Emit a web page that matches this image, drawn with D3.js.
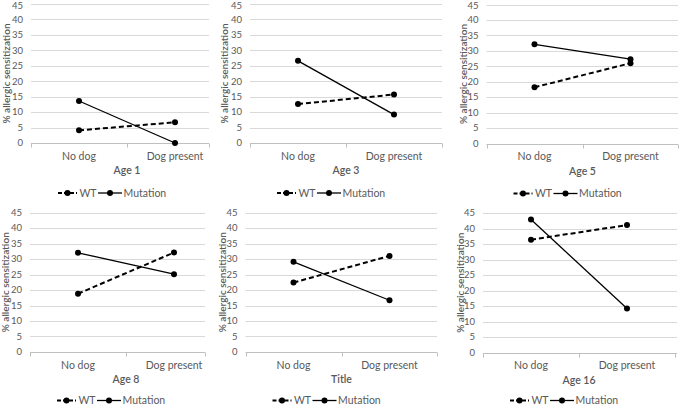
<!DOCTYPE html>
<html>
<head>
<meta charset="utf-8">
<script src="https://cdn.jsdelivr.net/npm/d3@7"></script>
<style>
  html, body { margin: 0; padding: 0; background: #fff; }
  svg { display: block; font-family: Lato, "Open Sans", sans-serif; }
</style>
</head>
<body>
<svg id="chart" width="680" height="406"></svg>
<script>
// ---- data ----
const categories = ["No dog", "Dog present"];
const panelTitles = ["Age 1", "Age 3", "Age 5", "Age 8", "Title", "Age 16"];
const seriesNames = ["WT", "Mutation"];
const wtValues = [
  [4.1, 6.7],
  [12.6, 15.7],
  [18.2, 26.0],
  [18.8, 32.1],
  [22.4, 31.0],
  [36.4, 41.1]
];
const mutationValues = [
  [13.6, 0.0],
  [26.6, 9.2],
  [32.1, 27.3],
  [32.0, 25.1],
  [29.1, 16.7],
  [42.9, 14.2]
];
const yTicks = [0, 5, 10, 15, 20, 25, 30, 35, 40, 45];
const yAxisTitle = "% allergic sensitization";

// ---- layout (positions only) ----
const layout = [
  { left: 31,    top: 4,     bottom: 143, clipRight: 209, titleX: 6,   legendDy: 50 },
  { left: 250,   top: 4,     bottom: 143, clipRight: 442, titleX: 224, legendDy: 50 },
  { left: 486.5, top: 4.5,   bottom: 143.5, clipRight: 678, titleX: 463, legendDy: 50 },
  { left: 30,    top: 212.5, bottom: 352, clipRight: 205, titleX: 5,   legendDy: 48.5 },
  { left: 245.5, top: 212.5, bottom: 352, clipRight: 437, titleX: 222, legendDy: 48.5 },
  { left: 483,   top: 213,   bottom: 352.5, clipRight: 677, titleX: 460, legendDy: 48 }
];
const BAND = 96;
const textColor = "#595959";
const gridColor = "#d9d9d9";

const svg = d3.select("#chart");

panelTitles.forEach((title, i) => {
  const L = layout[i];
  const g = svg.append("g");
  const x = d3.scaleBand().domain(categories).range([L.left, L.left + 2 * BAND]).padding(0);
  const cx = c => x(c) + x.bandwidth() / 2;
  const y = d3.scaleLinear().domain([0, 45]).range([L.bottom, L.top]);

  // gridlines
  g.selectAll("line.grid").data(yTicks.filter(t => t > 0)).enter().append("line")
    .attr("x1", L.left).attr("x2", L.clipRight)
    .attr("y1", d => Math.round(y(d)) + 0.5).attr("y2", d => Math.round(y(d)) + 0.5)
    .attr("stroke", gridColor).attr("stroke-width", 1);

  // y tick labels
  g.selectAll("text.ytick").data(yTicks).enter().append("text")
    .attr("x", L.left - 8).attr("y", d => Math.max(y(d), 5.5))
    .attr("dy", "0.35em").attr("text-anchor", "end")
    .attr("font-size", 9.5).attr("fill", textColor)
    .text(d => d);

  // x axis line
  const y0 = Math.round(y(0)) + 0.5;
  g.append("line").attr("x1", L.left).attr("x2", L.clipRight)
    .attr("y1", y0).attr("y2", y0).attr("stroke", "#bfbfbf");
  const tickXs = [L.left, L.left + BAND, L.left + 2 * BAND].map(v => Math.min(v, L.clipRight));
  g.selectAll("line.xtick").data(tickXs).enter().append("line")
    .attr("x1", d => Math.round(d) + 0.5).attr("x2", d => Math.round(d) + 0.5)
    .attr("y1", y0).attr("y2", y0 + 4).attr("stroke", "#bfbfbf");

  // category labels
  g.selectAll("text.cat").data(categories).enter().append("text")
    .attr("x", d => cx(d)).attr("y", y(0) + 13)
    .attr("dy", "0.35em").attr("text-anchor", "middle")
    .attr("font-size", 10.5).attr("fill", textColor)
    .text(d => d);

  // panel title (x axis title)
  g.append("text").attr("x", L.left + BAND).attr("y", y(0) + 27.5)
    .attr("dy", "0.35em").attr("text-anchor", "middle")
    .attr("font-size", 10.5).attr("font-weight", 600).attr("fill", textColor)
    .text(title);

  // y axis title
  g.append("text")
    .attr("transform", `translate(${L.titleX},${(L.top + L.bottom) / 2}) rotate(-90)`)
    .attr("dy", "0.35em").attr("text-anchor", "middle")
    .attr("font-size", 10).attr("font-weight", 600).attr("fill", textColor)
    .text(yAxisTitle);

  // series
  const series = [
    { name: seriesNames[0], values: wtValues[i], dash: "5,3", width: 2 },
    { name: seriesNames[1], values: mutationValues[i], dash: null, width: 1.3 }
  ];
  const line = d3.line().x(d => cx(d.c)).y(d => y(d.v));
  series.forEach(s => {
    const pts = categories.map((c, k) => ({ c, v: s.values[k] }));
    g.append("path").datum(pts).attr("d", line)
      .attr("fill", "none").attr("stroke", "#000")
      .attr("stroke-width", s.width).attr("stroke-dasharray", s.dash);
    g.selectAll(null).data(pts).enter().append("circle")
      .attr("cx", d => cx(d.c)).attr("cy", d => y(d.v)).attr("r", 3)
      .attr("fill", "#000");
  });

  // legend
  const ly = y(0) + L.legendDy;
  const lg = g.append("g");
  const legendItems = [
    { name: seriesNames[0], x1: L.left + 27, x2: L.left + 46, tx: L.left + 48.5, dash: "4,2", width: 2 },
    { name: seriesNames[1], x1: L.left + 67, x2: L.left + 91, tx: L.left + 92.5, dash: null, width: 1.3 }
  ];
  legendItems.forEach(it => {
    lg.append("line").attr("x1", it.x1).attr("x2", it.x2).attr("y1", ly).attr("y2", ly)
      .attr("stroke", "#000").attr("stroke-width", it.width).attr("stroke-dasharray", it.dash);
    lg.append("circle").attr("cx", (it.x1 + it.x2) / 2).attr("cy", ly).attr("r", 3).attr("fill", "#000");
    lg.append("text").attr("x", it.tx).attr("y", ly).attr("dy", "0.35em")
      .attr("font-size", 10.5).attr("fill", textColor).text(it.name);
  });
});
</script>
</body>
</html>
